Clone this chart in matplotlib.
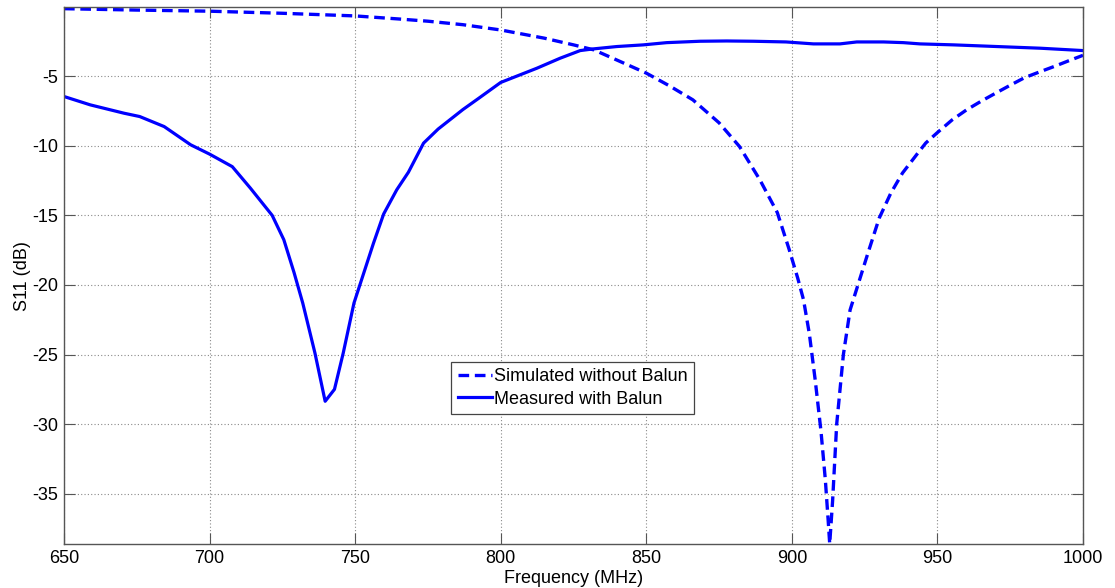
import matplotlib.pyplot as plt
import numpy as np

# simulated S11, no balun (MHz, dB)
freq_sim = [650, 675, 700, 725, 750, 765, 775, 787, 800, 815, 825, 832, 840,
            850, 858, 866, 875, 882, 889, 895, 899, 902, 904, 906, 908, 910,
            911.5, 912.5, 913, 914, 915.4, 917.7, 920, 923, 926, 930, 934,
            938, 943, 946, 950, 955, 960, 965, 970, 975, 980, 985, 990, 995,
            1000]
s11_sim = [-0.15, -0.25, -0.33, -0.48, -0.67, -0.89, -1.05, -1.3, -1.68,
           -2.27, -2.75, -3.11, -3.85, -4.78, -5.7, -6.7, -8.35, -10.05,
           -12.44, -14.8, -17.4, -19.5, -21.06, -23.5, -26.8, -30.5, -34.0,
           -37.0, -38.6, -35.5, -30.0, -25.0, -21.8, -19.8, -17.8, -15.2,
           -13.4, -11.96, -10.6, -9.8, -9.05, -8.15, -7.42, -6.8, -6.22,
           -5.65, -5.1, -4.7, -4.31, -3.9, -3.5]

# measured S11 with balun
freq_meas = [650, 659, 670.6, 676, 684.4, 693.5, 700, 707.8, 714, 721.5,
             725.5, 729, 732, 736.2, 739.7, 742.9, 745.9, 749.6, 756.3,
             759.8, 764.3, 768.3, 773.5, 778.5, 787, 792.5, 800, 812.4,
             820.4, 827.3, 831.8, 839.9, 849, 857, 868.5, 877.6, 886.8, 898,
             907.4, 916.5, 922.3, 931.5, 938.3, 944, 955.5, 970.4, 985.3, 1000]
s11_meas = [-6.46, -7.06, -7.66, -7.9, -8.62, -9.93, -10.6, -11.5, -13.04,
            -15.0, -16.75, -19.1, -21.3, -24.9, -28.36, -27.5, -24.9, -21.3,
            -17.0, -14.9, -13.16, -11.9, -9.81, -8.8, -7.4, -6.58, -5.45,
            -4.43, -3.71, -3.16, -3.04, -2.87, -2.75, -2.59, -2.49, -2.47,
            -2.49, -2.54, -2.68, -2.68, -2.54, -2.54, -2.59, -2.68, -2.75,
            -2.87, -2.99, -3.16]

plt.rcParams['font.family'] = ['Liberation Sans', 'DejaVu Sans']
plt.rcParams['axes.unicode_minus'] = False

fig = plt.figure(figsize=(11.15, 5.88), dpi=100)
ax = fig.add_axes([0.0574, 0.074, 0.9139, 0.9136])

ax.plot(freq_sim, s11_sim, color='#0000ff', lw=2.4, linestyle=(0, (3.2, 1.7)),
        dash_capstyle='butt', label='Simulated without Balun')
ax.plot(freq_meas, s11_meas, color='#0000ff', lw=2.3, label='Measured with Balun')

ax.set_xlim(650, 1000)
ax.set_ylim(-38.65, -0.05)
ax.set_xticks(np.arange(650, 1001, 50))
ax.set_yticks(np.arange(-35, -4, 5))

ax.grid(True, linestyle=(0, (1, 2)), color='#8a8a8a', linewidth=0.8)
ax.tick_params(direction='in', length=8, width=0.8, color='#555555',
               top=True, right=True, labelsize=13, pad=4)
for sp in ax.spines.values():
    sp.set_color('#555555')
    sp.set_linewidth(1.0)

ax.set_xlabel('Frequency (MHz)', fontsize=13, labelpad=2)
ax.set_ylabel('S11 (dB)', fontsize=13, labelpad=1)

leg = ax.legend(loc='upper left', bbox_to_anchor=(0.380, 0.340), fontsize=13,
                fancybox=False, framealpha=1, edgecolor='#444444',
                handlelength=1.9, handletextpad=0.1, borderpad=0.35,
                labelspacing=0.3, borderaxespad=0)
leg.get_frame().set_linewidth(0.9)

fig.savefig('out.png', dpi=100)
